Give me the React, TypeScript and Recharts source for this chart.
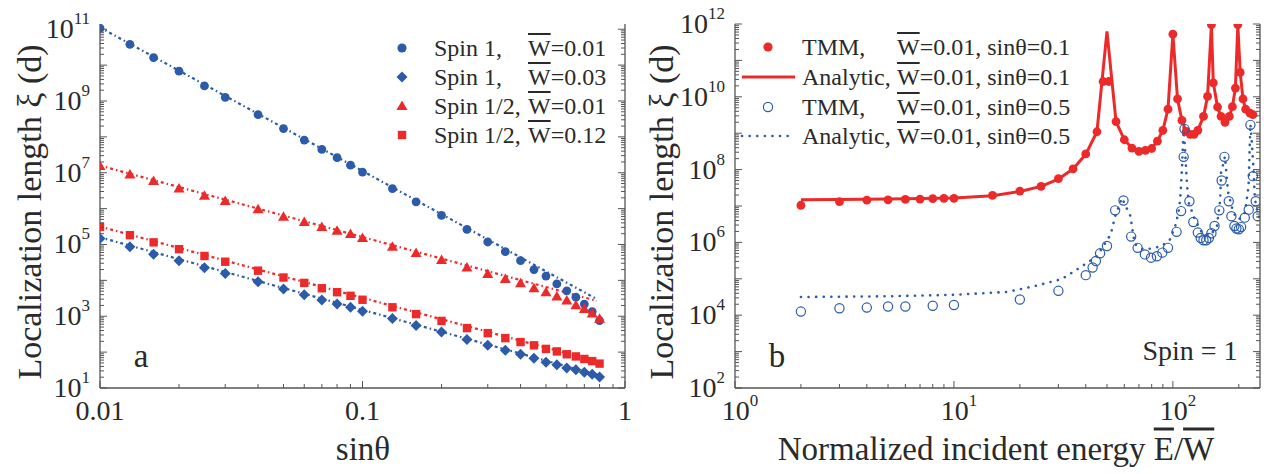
import React from "react";
import { ComposedChart, Line, Scatter, XAxis, YAxis } from "recharts";

const BLUE = "#2b5ba9";
const RED = "#ec2a2a";
const AXIS = "#555";
const INK = "#2a2a2a";
const FONT = "Liberation Serif";

// ---- panel a : xi vs sin(theta), values are log10(xi) ----
const sinTheta = [0.01, 0.013, 0.016, 0.02, 0.025, 0.03, 0.04, 0.05, 0.06, 0.07, 0.08, 0.09, 0.1, 0.13, 0.16, 0.2, 0.25, 0.3, 0.35, 0.4, 0.45, 0.5, 0.55, 0.6, 0.65, 0.7, 0.75, 0.8];
const spin1W001 = [11.03, 10.58, 10.21, 9.83, 9.42, 9.1, 8.62, 8.23, 7.91, 7.65, 7.42, 7.21, 7.02, 6.56, 6.19, 5.81, 5.42, 5.07, 4.8, 4.55, 4.3, 4.12, 3.9, 3.71, 3.53, 3.34, 3.13, 2.88];
const spin1W003 = [5.17, 4.94, 4.73, 4.55, 4.35, 4.19, 3.96, 3.76, 3.6, 3.45, 3.34, 3.25, 3.14, 2.94, 2.74, 2.56, 2.35, 2.19, 2.05, 1.94, 1.83, 1.72, 1.65, 1.56, 1.51, 1.44, 1.38, 1.31];
const spinHalfW001 = [7.19, 6.95, 6.77, 6.56, 6.36, 6.21, 5.98, 5.77, 5.63, 5.49, 5.38, 5.29, 5.18, 4.94, 4.76, 4.57, 4.36, 4.18, 4.04, 3.92, 3.78, 3.67, 3.55, 3.44, 3.31, 3.2, 3.08, 2.93];
const spinHalfW012 = [5.49, 5.26, 5.06, 4.87, 4.68, 4.52, 4.27, 4.08, 3.93, 3.78, 3.67, 3.57, 3.46, 3.25, 3.06, 2.87, 2.67, 2.53, 2.39, 2.28, 2.19, 2.09, 2.02, 1.94, 1.88, 1.81, 1.75, 1.68];
// dotted fits, end points only (straight on log-log)
const fitX = [0.01, 0.78];
const fitX2 = [0.01, 0.8];
const fitSpin1W001 = [11.05, 3.48];
const fitSpin1W003 = [5.2, 1.35];
const fitSpinHalfW001 = [7.2, 3.43];
const fitSpinHalfW012 = [5.5, 1.72];

// ---- panel b : xi vs E/W ----
const redTmmE = [2, 3, 4, 5, 6, 7, 8, 9, 10, 15, 20, 25, 30, 35, 40, 45, 48, 51, 55, 60, 65, 70, 75, 80, 85, 90, 95, 100, 105, 110, 115, 120, 125, 130, 138, 144, 150, 153, 160, 166, 173, 181, 187, 193, 198, 203, 209, 215, 225, 232];
const redTmmLog = [7.02, 7.12, 7.16, 7.17, 7.18, 7.19, 7.2, 7.21, 7.21, 7.29, 7.41, 7.54, 7.75, 8.02, 8.43, 9.04, 10.42, 10.42, 9.32, 8.82, 8.59, 8.5, 8.53, 8.58, 8.78, 9.08, 9.66, 11.72, 9.94, 9.35, 9.05, 8.97, 8.97, 9.08, 9.46, 10.01, 11.98, 10.38, 9.72, 9.46, 9.3, 9.46, 9.73, 10.24, 11.98, 10.67, 9.94, 9.66, 9.55, 9.51];
const redLineE = [2, 3, 5, 10, 15, 20, 25, 30, 35, 40, 45, 50, 55, 60, 65, 70, 75, 80, 85, 90, 95, 100, 105, 110, 115, 120, 125, 130, 138, 144, 150, 153, 160, 166, 173, 181, 187, 193, 198, 203, 209, 215, 225, 232];
const redLineLog = [7.17, 7.18, 7.19, 7.22, 7.28, 7.4, 7.54, 7.74, 8.02, 8.42, 9.04, 11.8, 9.32, 8.82, 8.59, 8.5, 8.53, 8.58, 8.78, 9.08, 9.66, 11.72, 9.94, 9.35, 9.05, 8.97, 8.97, 9.08, 9.46, 10.01, 11.98, 10.38, 9.72, 9.46, 9.3, 9.46, 9.73, 10.24, 11.98, 10.67, 9.94, 9.66, 9.55, 9.51];
const blueTmmE = [2, 3, 4, 5, 6, 8, 10, 20, 30, 40, 43, 44.5, 46.5, 50, 54.5, 59.5, 64.5, 69, 74.5, 79.5, 84.5, 89.5, 95, 104, 109, 112, 113, 119, 124, 130, 134, 138, 142, 146, 150, 155, 163, 167, 172, 180, 185, 191, 195, 200, 205, 213, 222, 226, 232, 239, 244];
const blueTmmLog = [4.1, 4.19, 4.21, 4.24, 4.24, 4.26, 4.28, 4.43, 4.67, 5.1, 5.31, 5.49, 5.7, 5.9, 6.88, 7.15, 6.16, 5.85, 5.67, 5.58, 5.62, 5.72, 5.85, 6.29, 6.86, 8.35, 9.12, 7.13, 6.56, 6.27, 6.12, 6.06, 6.06, 6.12, 6.25, 6.45, 6.88, 7.7, 8.35, 7.13, 6.72, 6.45, 6.38, 6.36, 6.42, 6.68, 6.9, 9.23, 7.82, 7.13, 6.72];
const blueLineE = [2, 5, 10, 11.5, 17.5, 23, 31, 37, 45, 52, 54.5, 58.5, 64, 65, 67, 73, 80, 89, 97, 102.5, 106, 108, 110, 112, 114, 116, 118, 126, 135.6, 148, 159, 164.5, 166, 173, 176, 179, 189, 200, 213, 221.6, 226, 229, 233, 237, 244, 250];
const blueLineLog = [4.5, 4.52, 4.56, 4.58, 4.64, 4.79, 4.99, 5.28, 5.62, 6.22, 6.72, 7.22, 6.72, 6.45, 5.95, 5.81, 5.83, 5.9, 6.08, 6.45, 6.81, 7.18, 8.0, 9.16, 8.4, 7.6, 7.1, 6.63, 6.27, 6.18, 6.45, 7.18, 7.91, 8.36, 7.82, 7.36, 6.81, 6.63, 6.81, 7.54, 9.25, 8.82, 8.09, 7.18, 6.81, 6.6];

// tick labels
const aXTicks = [0.01, 0.1, 1];
const aXLabels = ["0.01", "0.1", "1"];
const aYExps = [1, 3, 5, 7, 9, 11];
const bXExps = [0, 1, 2];
const bYExps = [2, 4, 6, 8, 10, 12];

const pts = (xs: number[], logs: number[]) => xs.map((x, i) => ({ x, y: Math.pow(10, logs[i]) }));

// decade + 2..9 minor ticks between two powers of ten
function logTicks(lo: number, hi: number, max: number) {
  const out: number[] = [];
  for (let e = lo; e <= hi; e++) {
    for (let m = 1; m <= 9; m++) {
      const v = m * Math.pow(10, e);
      if (v <= max * 1.0001) out.push(v);
    }
  }
  return out;
}

const isDecade = (v: number) => Math.abs(Math.log10(v) - Math.round(Math.log10(v))) < 1e-6;

function YTick(props: any) {
  const { x, y, payload, side, exps } = props;
  const v = payload.value;
  const dec = isDecade(v);
  const dir = side === "left" ? 1 : -1;
  const e = Math.round(Math.log10(v));
  return (
    <g>
      <line x1={x} x2={x + dir * (dec ? 7 : 4)} y1={y} y2={y} stroke={AXIS} strokeWidth={1} />
      {side === "left" && dec && exps.includes(e) && (
        <text x={x - 10} y={y + 9} textAnchor="end" fontFamily={FONT} fontSize={28} fill={INK}>
          10
          <tspan dy={-14} fontSize={17}>{e}</tspan>
        </text>
      )}
    </g>
  );
}

function XTick(props: any) {
  const { x, y, payload, label } = props;
  const dec = isDecade(payload.value);
  return (
    <g>
      <line x1={x} x2={x} y1={y} y2={y - (dec ? 7 : 4)} stroke={AXIS} strokeWidth={1} />
      {label}
    </g>
  );
}

const circleShape = (color: string) => (p: any) => <circle cx={p.cx} cy={p.cy} r={4.4} fill={color} />;
const ringShape = (p: any) => <circle cx={p.cx} cy={p.cy} r={4.6} fill="none" stroke={BLUE} strokeWidth={1.2} />;
const diamondShape = (p: any) => (
  <polygon points={`${p.cx},${p.cy - 5.5} ${p.cx + 5.5},${p.cy} ${p.cx},${p.cy + 5.5} ${p.cx - 5.5},${p.cy}`} fill={BLUE} />
);
const triangleShape = (p: any) => (
  <polygon points={`${p.cx},${p.cy - 5.5} ${p.cx + 5.5},${p.cy + 4} ${p.cx - 5.5},${p.cy + 4}`} fill={RED} />
);
const squareShape = (p: any) => <rect x={p.cx - 4.2} y={p.cy - 4.2} width={8.4} height={8.4} fill={RED} />;

function Txt({ x, y, size, children, rotate, anchor = "center" }: any) {
  const tx = anchor === "center" ? "-50%" : "0";
  return (
    <div
      style={{
        position: "absolute",
        left: x,
        top: y,
        transform: `translate(${tx},-50%)${rotate ? " rotate(-90deg)" : ""}`,
        fontFamily: FONT,
        fontSize: size,
        color: INK,
        whiteSpace: "nowrap",
        lineHeight: 1,
      }}
    >
      {children}
    </div>
  );
}

const Wbar = () => <span style={{ textDecoration: "overline" }}>W</span>;

function LegendRow({ y, sx, col1, col2, c1, c2, symbol }: any) {
  return (
    <>
      <svg style={{ position: "absolute", left: sx - 30, top: y - 10, overflow: "visible" }} width={60} height={20}>
        {symbol}
      </svg>
      <Txt x={c1} y={y} size={24} anchor="left">{col1}</Txt>
      <Txt x={c2} y={y} size={24} anchor="left">{col2}</Txt>
    </>
  );
}

const axisLine = { stroke: AXIS, strokeWidth: 1.3 };

export default function App() {
  const aYTicks = logTicks(1, 11, 1.4e11);
  const aXTickVals = logTicks(-2, 0, 1);
  const bYTicks = logTicks(2, 12, 1e12);
  const bXTickVals = logTicks(0, 2, 250);

  return (
    <div style={{ position: "absolute", left: 0, top: 0, width: 1264, height: 474, background: "#fff", overflow: "hidden" }}>
      {/* panel a */}
      <div style={{ position: "absolute", left: 0, top: 0 }}>
        <ComposedChart width={640} height={474} margin={{ top: 24, right: 14, bottom: 0, left: 0 }}>
          <XAxis
            dataKey="x"
            type="number"
            scale="log"
            domain={[0.01, 1]}
            allowDataOverflow
            ticks={aXTickVals}
            interval={0}
            height={86}
            tickSize={0}
            tickMargin={0}
            axisLine={axisLine}
            tick={(p: any) => {
              const i = aXTicks.findIndex((t) => Math.abs(t - p.payload.value) / t < 1e-6);
              return (
                <XTick
                  {...p}
                  label={
                    i >= 0 ? (
                      <text x={p.x} y={p.y + 32} textAnchor="middle" fontFamily={FONT} fontSize={28} fill={INK}>
                        {aXLabels[i]}
                      </text>
                    ) : null
                  }
                />
              );
            }}
          />
          <XAxis xAxisId="top" orientation="top" type="number" scale="log" domain={[0.01, 1]} height={0} tick={false} tickLine={false} axisLine={axisLine} />
          <YAxis
            type="number"
            scale="log"
            domain={[10, 1.4e11]}
            allowDataOverflow
            ticks={aYTicks}
            interval={0}
            width={100}
            tickSize={0}
            tickMargin={0}
            axisLine={axisLine}
            tick={(p: any) => <YTick {...p} side="left" exps={aYExps} />}
          />
          <YAxis
            yAxisId="right"
            orientation="right"
            type="number"
            scale="log"
            domain={[10, 1.4e11]}
            allowDataOverflow
            ticks={aYTicks}
            interval={0}
            width={1}
            tickSize={0}
            tickMargin={0}
            axisLine={axisLine}
            tick={(p: any) => <YTick {...p} side="right" exps={[]} />}
          />
          <Line data={pts(fitX, fitSpin1W001)} dataKey="y" stroke={BLUE} strokeWidth={2.2} strokeDasharray="3 3 1.5 3" dot={false} isAnimationActive={false} />
          <Line data={pts(fitX2, fitSpin1W003)} dataKey="y" stroke={BLUE} strokeWidth={2.2} strokeDasharray="3 3 1.5 3" dot={false} isAnimationActive={false} />
          <Line data={pts(fitX, fitSpinHalfW001)} dataKey="y" stroke={RED} strokeWidth={2.2} strokeDasharray="3 3 1.5 3" dot={false} isAnimationActive={false} />
          <Line data={pts(fitX2, fitSpinHalfW012)} dataKey="y" stroke={RED} strokeWidth={2.2} strokeDasharray="3 3 1.5 3" dot={false} isAnimationActive={false} />
          <Scatter data={pts(sinTheta, spin1W001)} dataKey="y" shape={circleShape(BLUE)} isAnimationActive={false} />
          <Scatter data={pts(sinTheta, spin1W003)} dataKey="y" shape={diamondShape} isAnimationActive={false} />
          <Scatter data={pts(sinTheta, spinHalfW001)} dataKey="y" shape={triangleShape} isAnimationActive={false} />
          <Scatter data={pts(sinTheta, spinHalfW012)} dataKey="y" shape={squareShape} isAnimationActive={false} />
        </ComposedChart>
      </div>

      {/* panel b */}
      <div style={{ position: "absolute", left: 640, top: 0 }}>
        <ComposedChart width={624} height={474} margin={{ top: 24, right: 3, bottom: 0, left: 0 }}>
          <XAxis
            dataKey="x"
            type="number"
            scale="log"
            domain={[1, 250]}
            allowDataOverflow
            ticks={bXTickVals}
            interval={0}
            height={86}
            tickSize={0}
            tickMargin={0}
            axisLine={axisLine}
            tick={(p: any) => {
              const v = p.payload.value;
              const e = Math.round(Math.log10(v));
              return (
                <XTick
                  {...p}
                  label={
                    isDecade(v) && bXExps.includes(e) ? (
                      <text x={p.x + 5} y={p.y + 32} textAnchor="middle" fontFamily={FONT} fontSize={28} fill={INK}>
                        10
                        <tspan dy={-14} fontSize={17}>{e}</tspan>
                      </text>
                    ) : null
                  }
                />
              );
            }}
          />
          <XAxis xAxisId="top" orientation="top" type="number" scale="log" domain={[1, 250]} height={0} tick={false} tickLine={false} axisLine={axisLine} />
          <YAxis
            type="number"
            scale="log"
            domain={[100, 1e12]}
            allowDataOverflow
            ticks={bYTicks}
            interval={0}
            width={95}
            tickSize={0}
            tickMargin={0}
            axisLine={axisLine}
            tick={(p: any) => <YTick {...p} side="left" exps={bYExps} />}
          />
          <YAxis
            yAxisId="right"
            orientation="right"
            type="number"
            scale="log"
            domain={[100, 1e12]}
            allowDataOverflow
            ticks={bYTicks}
            interval={0}
            width={1}
            tickSize={0}
            tickMargin={0}
            axisLine={axisLine}
            tick={(p: any) => <YTick {...p} side="right" exps={[]} />}
          />
          <Line data={pts(blueLineE, blueLineLog)} dataKey="y" stroke={BLUE} strokeWidth={2.6} strokeDasharray="0.1 7.5" strokeLinecap="round" dot={false} isAnimationActive={false} />
          <Line data={pts(redLineE, redLineLog)} dataKey="y" stroke={RED} strokeWidth={3} dot={false} isAnimationActive={false} />
          <Scatter data={pts(redTmmE, redTmmLog)} dataKey="y" shape={circleShape(RED)} isAnimationActive={false} />
          <Scatter data={pts(blueTmmE, blueTmmLog)} dataKey="y" shape={ringShape} isAnimationActive={false} />
        </ComposedChart>
      </div>

      {/* axis titles and labels */}
      <Txt x={30} y={212} size={34} rotate>Localization length ξ (d)</Txt>
      <Txt x={363} y={449} size={33}>sinθ</Txt>
      <Txt x={141} y={356} size={33}>a</Txt>
      <Txt x={662} y={212} size={34} rotate>Localization length ξ (d)</Txt>
      <Txt x={996} y={449} size={33}>
        Normalized incident energy <span style={{ textDecoration: "overline" }}>E</span>/<Wbar />
      </Txt>
      <Txt x={777} y={356} size={33}>b</Txt>
      <Txt x={1190} y={351} size={28}>Spin = 1</Txt>

      {/* legend a */}
      <LegendRow y={48} sx={402} c1={434} c2={528} col1="Spin 1," col2={<><Wbar />=0.01</>} symbol={<circle cx={30} cy={10} r={4.6} fill={BLUE} />} />
      <LegendRow y={77} sx={402} c1={434} c2={528} col1="Spin 1," col2={<><Wbar />=0.03</>} symbol={<polygon points="30,4.5 35.5,10 30,15.5 24.5,10" fill={BLUE} />} />
      <LegendRow y={106} sx={402} c1={434} c2={528} col1="Spin 1/2," col2={<><Wbar />=0.01</>} symbol={<polygon points="30,4.5 35.5,14 24.5,14" fill={RED} />} />
      <LegendRow y={135} sx={402} c1={434} c2={528} col1="Spin 1/2," col2={<><Wbar />=0.12</>} symbol={<rect x={25.8} y={5.8} width={8.4} height={8.4} fill={RED} />} />

      {/* legend b */}
      <LegendRow y={47} sx={768} c1={802} c2={897} col1="TMM," col2={<><Wbar />=0.01, sinθ=0.1</>} symbol={<circle cx={30} cy={10} r={4.6} fill={RED} />} />
      <LegendRow y={77} sx={768} c1={802} c2={897} col1="Analytic," col2={<><Wbar />=0.01, sinθ=0.1</>} symbol={<line x1={4} x2={57} y1={10} y2={10} stroke={RED} strokeWidth={3} />} />
      <LegendRow y={107} sx={768} c1={802} c2={897} col1="TMM," col2={<><Wbar />=0.01, sinθ=0.5</>} symbol={<circle cx={30} cy={10} r={4.6} fill="none" stroke={BLUE} strokeWidth={1.2} />} />
      <LegendRow y={136} sx={768} c1={802} c2={897} col1="Analytic," col2={<><Wbar />=0.01, sinθ=0.5</>} symbol={<line x1={4} x2={57} y1={10} y2={10} stroke={BLUE} strokeWidth={2.6} strokeDasharray="0.1 7.5" strokeLinecap="round" />} />
    </div>
  );
}
